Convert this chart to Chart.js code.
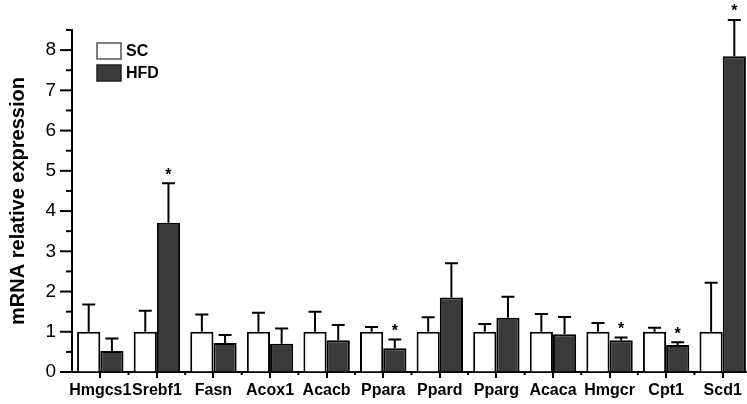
<!DOCTYPE html>
<html>
<head>
<meta charset="utf-8">
<script src="https://cdn.jsdelivr.net/npm/chart.js@4/dist/chart.umd.min.js"></script>
<style>
  html, body { margin: 0; padding: 0; background: #fff; overflow: hidden; }
  #wrap { width: 751px; height: 404px; }
</style>
</head>
<body>
<div id="wrap"><canvas id="chart"></canvas></div>
<script>
// genes on the x axis
const genes = ['Hmgcs1', 'Srebf1', 'Fasn', 'Acox1', 'Acacb', 'Ppara', 'Ppard', 'Pparg', 'Acaca', 'Hmgcr', 'Cpt1', 'Scd1'];

// SC group (control), mean and upper error
const scMean = [1, 1, 1, 1, 1, 1, 1, 1, 1, 1, 1, 1];
const scErr  = [0.68, 0.52, 0.43, 0.47, 0.50, 0.12, 0.36, 0.19, 0.44, 0.22, 0.10, 1.22];

// HFD group, mean and upper error
const hfdMean = [0.52, 3.71, 0.72, 0.70, 0.79, 0.59, 1.85, 1.35, 0.94, 0.79, 0.67, 7.85];
const hfdErr  = [0.31, 0.98, 0.20, 0.38, 0.38, 0.22, 0.85, 0.52, 0.43, 0.07, 0.07, 0.90];

// significant (*) HFD vs SC
const hfdStar = [false, true, false, false, false, true, false, false, false, true, true, true];

const yTicks = [0, 1, 2, 3, 4, 5, 6, 7, 8];

const FONT = 'Liberation Sans, Arial, Helvetica, sans-serif';

// error bars, stars, minor ticks, legend
const extras = {
    id: 'extras',
    afterDatasetsDraw(chart) {
        const ctx = chart.ctx;
        const yScale = chart.scales.y;
        const xScale = chart.scales.x;
        const errs = [scErr, hfdErr];
        ctx.save();
        ctx.strokeStyle = '#000';
        ctx.lineWidth = 2;
        chart.data.datasets.forEach((ds, di) => {
            const meta = chart.getDatasetMeta(di);
            meta.data.forEach((bar, i) => {
                const x = bar.x;
                const yTop = yScale.getPixelForValue(ds.data[i] + errs[di][i]);
                const yBar = yScale.getPixelForValue(ds.data[i]);
                ctx.beginPath();
                ctx.moveTo(x, yBar);
                ctx.lineTo(x, yTop);
                ctx.moveTo(x - 6.5, yTop);
                ctx.lineTo(x + 6.5, yTop);
                ctx.stroke();
                if (di === 1 && hfdStar[i]) {
                    ctx.fillStyle = '#000';
                    ctx.font = 'bold 16px ' + FONT;
                    ctx.textAlign = 'center';
                    ctx.textBaseline = 'middle';
                    ctx.fillText('*', x, yTop - 8);
                }
            });
        });

        // y ticks: major every 1, minor every 0.5
        const axisX = chart.chartArea.left;
        for (let v = 0; v <= 8.5; v += 0.5) {
            const py = yScale.getPixelForValue(v);
            const len = Number.isInteger(v) ? 12 : 6;
            ctx.beginPath();
            ctx.moveTo(axisX - len, py);
            ctx.lineTo(axisX, py);
            ctx.stroke();
        }

        // small marks between categories
        const bottom = chart.chartArea.bottom;
        for (let i = 0; i < genes.length - 1; i++) {
            const px = (xScale.getPixelForValue(i) + xScale.getPixelForValue(i + 1)) / 2;
            ctx.beginPath();
            ctx.moveTo(px, bottom);
            ctx.lineTo(px, bottom + 3);
            ctx.stroke();
        }

        // legend
        const lx = 97, ly = [43, 65];
        const names = ['SC', 'HFD'];
        const fills = ['#ffffff', '#3a3a3a'];
        ctx.font = 'bold 16px ' + FONT;
        ctx.textAlign = 'left';
        ctx.textBaseline = 'middle';
        names.forEach((n, k) => {
            ctx.fillStyle = fills[k];
            ctx.fillRect(lx, ly[k], 24, 16);
            ctx.lineWidth = 1.5;
            ctx.strokeStyle = k === 0 ? '#555' : '#222';
            ctx.strokeRect(lx, ly[k], 24, 16);
            ctx.fillStyle = '#000';
            ctx.fillText(n, lx + 29, ly[k] + 8.5);
        });
        ctx.restore();
    }
};

new Chart(document.getElementById('chart'), {
    type: 'bar',
    data: {
        labels: genes,
        datasets: [
            { label: 'SC', data: scMean, backgroundColor: '#ffffff', borderColor: '#000', borderWidth: 2 },
            { label: 'HFD', data: hfdMean, backgroundColor: '#3a3a3a', borderColor: '#000', borderWidth: 2 }
        ]
    },
    options: {
        responsive: true,
        maintainAspectRatio: false,
        animation: false,
        layout: { padding: { top: 30, right: 0, bottom: 0, left: 0 } },
        datasets: { bar: { categoryPercentage: 0.82, barPercentage: 1.0 } },
        plugins: { legend: { display: false }, tooltip: { enabled: false } },
        scales: {
            x: {
                grid: { drawOnChartArea: false, drawTicks: true, tickLength: 6, offset: false, color: '#000', lineWidth: 2 },
                border: { display: true, color: '#000', width: 2 },
                ticks: { color: '#000', font: { family: FONT, size: 16, weight: 'bold' }, padding: 3, maxRotation: 0, autoSkip: false },
                afterFit(scale) { scale.height = 32; }
            },
            y: {
                min: 0,
                max: 8.5,
                afterBuildTicks(scale) { scale.ticks = yTicks.map(v => ({ value: v })); },
                grid: { drawOnChartArea: false, drawTicks: false },
                border: { display: true, color: '#000', width: 2 },
                ticks: { color: '#000', font: { family: FONT, size: 19 }, padding: 16 },
                title: { display: true, text: 'mRNA relative expression', color: '#000', font: { family: FONT, size: 20, weight: 'bold' }, padding: { top: 6, bottom: 0 } },
                afterFit(scale) { scale.width = 72; }
            }
        }
    },
    plugins: [extras]
});
</script>
</body>
</html>
